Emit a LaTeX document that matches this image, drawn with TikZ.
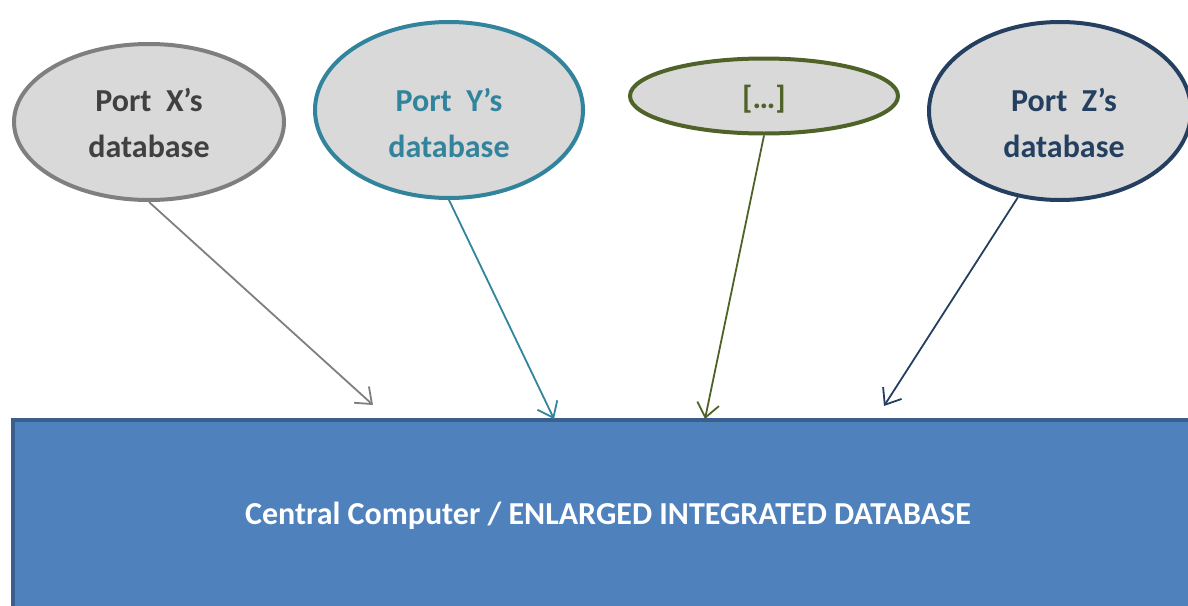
\documentclass[tikz,border=0pt]{standalone}
\usepackage{fontspec}
\setmainfont{Carlito}
\usepackage{xcolor}
\usetikzlibrary{positioning,shapes,arrows.meta}

\definecolor{portx}{HTML}{7F7F7F}
\definecolor{portxtext}{HTML}{404040}
\definecolor{porty}{HTML}{31849B}
\definecolor{portdots}{HTML}{4F6228}
\definecolor{portz}{HTML}{243F60}
\definecolor{dbfill}{HTML}{D9D9D9}
\definecolor{centralfill}{HTML}{4F81BD}
\definecolor{centralline}{HTML}{3A5F8E}

\begin{document}
\begin{tikzpicture}[x=1pt,y=-1pt,
  portdb/.style={ellipse,draw,fill=dbfill,line width=4pt,inner sep=0pt},
  porttext/.style={align=center,inner sep=0pt,font=\fontsize{32}{46}\selectfont\bfseries},
  feed/.style={line width=1.8pt,-{Straight Barb[length=14pt,width=22pt,line width=1.8pt]}}]
\clip (0,0) rectangle (1188,605);
\useasboundingbox (0,0) rectangle (1188,605);
% the ports
\node[portdb,draw=portx,minimum width=270pt,minimum height=156pt] (px) at (149,122) {};
\node[porttext,text=portxtext] (pxtext) at (149,123) {Port\ \ X’s\\database};
\node[portdb,draw=porty,minimum width=268pt,minimum height=176pt] (py) at (449,110) {};
\node[porttext,text=porty] (pytext) at (449,123) {Port\ \ Y’s\\database};
\node[portdb,draw=portdots,minimum width=268pt,minimum height=75pt] (pdots) at (764,96) {};
\node[porttext,text=portdots] (pdotstext) at (764,99) {[…]};
\node[portdb,draw=portz,minimum width=262pt,minimum height=178pt] (pz) at (1060,111) {};
\node[porttext,text=portz] (pztext) at (1064,123) {Port\ \ Z’s\\database};
% central database
\node[rectangle,draw=centralline,fill=centralfill,line width=4pt,minimum width=1190pt,minimum height=192pt,
  text=white,font=\fontsize{32}{38}\selectfont\bfseries] (central) at (608,516) {Central Computer / ENLARGED INTEGRATED DATABASE};
\coordinate (inx) at (373,405);
\coordinate (iny) at (554,419);
\coordinate (indots) at (705,419);
\coordinate (inz) at (884,406);
\draw[feed,portx] (px.south) -- (inx);
\draw[feed,porty] (py.south) -- (iny);
\draw[feed,portdots] (pdots.south) -- (indots);
\draw[feed,portz] (pz.244) -- (inz);
\end{tikzpicture}
\end{document}
